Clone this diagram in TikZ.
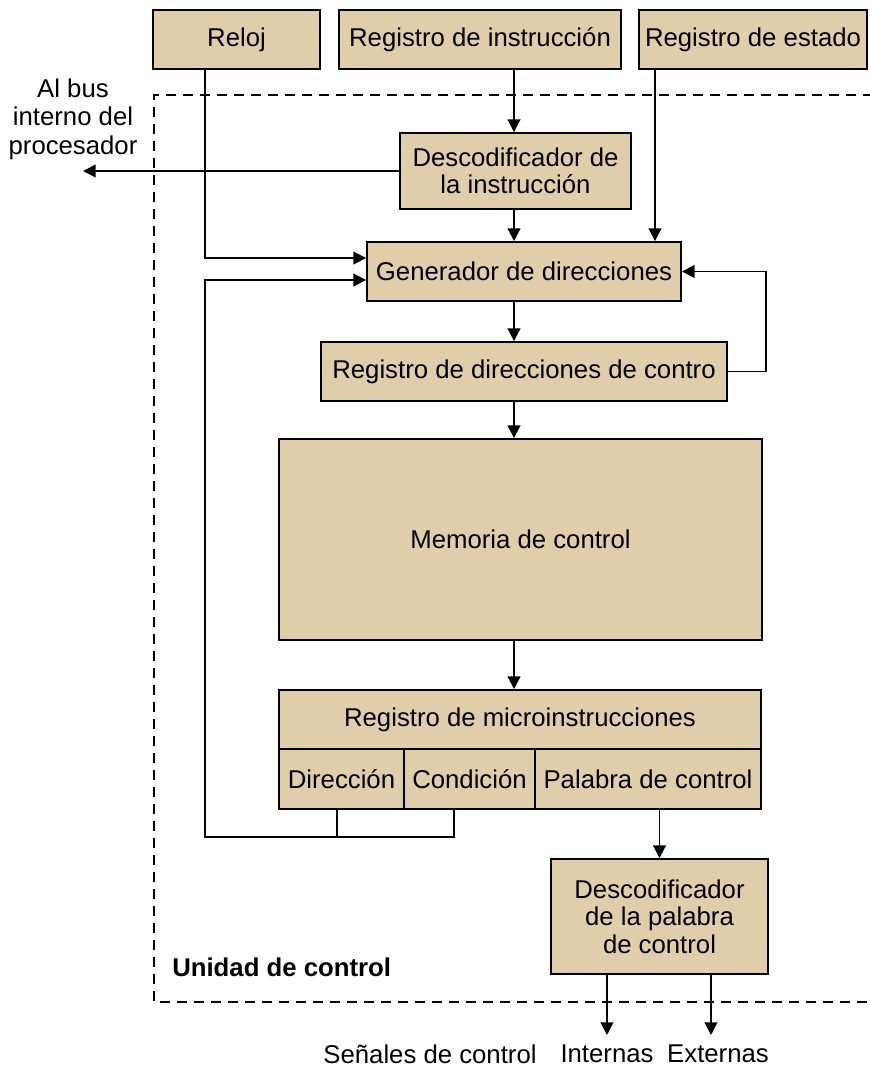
\documentclass[tikz,border=0pt]{standalone}
\usepackage{fontspec}
\setmainfont{Liberation Sans}
\usetikzlibrary{arrows.meta}
\definecolor{arena}{RGB}{224,206,171}

\begin{document}
\begin{tikzpicture}[x=0.75pt,y=-0.75pt,
    caja/.style={draw, line width=1.4pt, fill=arena, inner sep=0pt,
        align=center, font=\fontsize{19.3}{20.6}\selectfont},
    tam/.style 2 args={minimum width={#1*0.75pt}, minimum height={#2*0.75pt}},
    texto/.style={inner sep=0pt, align=center, font=\fontsize{19.3}{21.4}\selectfont},
    flecha/.style={line width=1.4pt, -{Triangle[length=9.5pt,width=9.5pt]}},
    linea/.style={line width=1.4pt}]
    \useasboundingbox (0,0) rectangle (869,1068);
    % unidad de control
    \draw [line width=1.4pt, dash pattern=on 7.5pt off 5.25pt] (890,95) -- (154,95) -- (154,1002) -- (890,1002);
    \node [texto, anchor=west, font=\fontsize{19.3}{21.4}\selectfont\bfseries] (uc) at (172,967) {Unidad de control};
    % registros de entrada
    \node [caja, tam={167}{59}] (reloj) at (236.5,39.5) {Reloj};
    \node [caja, tam={282}{59}] (rinst) at (480,39.5) {Registro de instrucción};
    \node [caja, tam={228}{59}] (rest) at (753,39.5) {Registro de estado};
    % bloques internos
    \node [caja, tam={231}{76}] (dinst) at (515.5,171) {Descodificador de\\la instrucción};
    \node [caja, tam={314}{59}] (gen) at (524,271.5) {Generador de direcciones};
    \node [caja, tam={406}{59}] (rdir) at (524,371.5) {Registro de direcciones de contro};
    \node [caja, tam={483}{201}] (mem) at (520.5,539.5) {Memoria de control};
    \node [caja, tam={482}{59}] (rmicro) at (520,719.5) {Registro de microinstrucciones};
    \node [caja, tam={125}{60}] (dir) at (341.5,779) {Dirección};
    \node [caja, tam={131}{60}] (cond) at (469.5,779) {Condición};
    \node [caja, tam={226}{60}] (pal) at (648,779) {Palabra de control};
    \node [caja, tam={217}{115}] (dpal) at (659.5,916.5) {Descodificador\\de la palabra\\de control};
    % textos sueltos
    \node [texto] (bus) at (73,119) {Al bus\\interno del\\procesador};
    \node [texto] (senal) at (430,1054) {Señales de control};
    \node [texto] (internas) at (607,1054) {Internas};
    \node [texto] (externas) at (718,1054) {Externas};
    % puntos de paso
    \coordinate (eje) at (514,0);
    \coordinate (codoA) at (205,258);
    \coordinate (retB) at (205,280);
    \coordinate (retA) at (205,837);
    \coordinate (p1) at (337,837);
    \coordinate (p2) at (454,837);
    \coordinate (lazo) at (766,0);
    \coordinate (salbus) at (83,171);
    \coordinate (sint) at (607,1035);
    \coordinate (sext) at (711,1035);
    \coordinate (est) at (655,0);
    % conexiones
    \draw [flecha] (reloj.south -| codoA) -- (codoA) -- (gen.west |- codoA);
    \draw [flecha] (rinst.south -| eje) -- (dinst.north -| eje);
    \draw [flecha] (dinst.west) -- (salbus);
    \draw [flecha] (dinst.south -| eje) -- (gen.north -| eje);
    \draw [flecha] (rest.south -| est) -- (gen.north -| est);
    \draw [flecha] (gen.south -| eje) -- (rdir.north -| eje);
    \draw [flecha] (rdir.east) -- (rdir.east -| lazo) -- (gen.east -| lazo) -- (gen.east);
    \draw [flecha] (rdir.south -| eje) -- (mem.north -| eje);
    \draw [flecha] (mem.south -| eje) -- (rmicro.north -| eje);
    \draw [linea] (dir.south -| p1) -- (p1);
    \draw [flecha] (cond.south -| p2) -- (p2) -- (retA) -- (retB) -- (gen.west |- retB);
    \draw [flecha] (pal.south -| dpal.north) -- (dpal.north);
    \draw [flecha] (dpal.south -| sint) -- (sint);
    \draw [flecha] (dpal.south -| sext) -- (sext);
\end{tikzpicture}
\end{document}
